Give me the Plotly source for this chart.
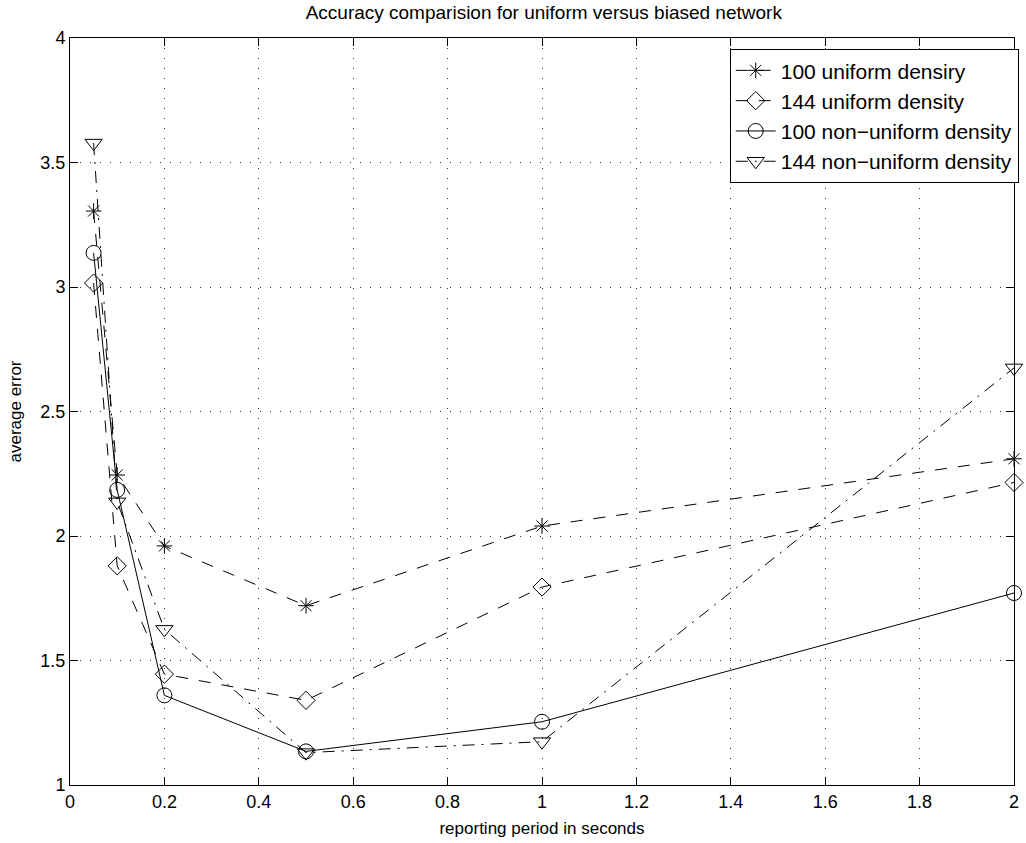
import plotly.graph_objects as go

periods = [0.05, 0.1, 0.2, 0.5, 1.0, 2.0]
uniform_100 = [3.305, 2.245, 1.96, 1.72, 2.04, 2.31]
uniform_144 = [3.016, 1.88, 1.445, 1.34, 1.795, 2.215]
nonuniform_100 = [3.137, 2.185, 1.36, 1.135, 1.254, 1.771]
nonuniform_144 = [3.578, 2.137, 1.625, 1.13, 1.174, 2.675]

names = ["100 uniform densiry", "144 uniform density",
         "100 non\u2212uniform density", "144 non\u2212uniform density"]
series = [uniform_100, uniform_144, nonuniform_100, nonuniform_144]
symbols = ["asterisk-open", "diamond-open", "circle-open", "triangle-down-open"]
dashes = ["12px,11px", "12px,11px", "solid", "12px,7px,2px,7px"]
sizes = [13, 14, 15, 15]

font = "Liberation Sans, Arial, Helvetica, sans-serif"
fig = go.Figure()
for name, ys, sym, d, sz in zip(names, series, symbols, dashes, sizes):
    fig.add_trace(go.Scatter(
        x=periods, y=ys, mode="lines+markers", name=name,
        line=dict(color="black", width=1, dash=d),
        marker=dict(symbol=sym, size=sz, color="black",
                    line=dict(color="black", width=1)),
        cliponaxis=False,
    ))

axis_common = dict(
    showline=True, linecolor="black", linewidth=1, mirror="allticks",
    ticks="inside", ticklen=8, tickcolor="black",
    showgrid=True, gridcolor="#333333", gridwidth=1, griddash="1px,9px",
    zeroline=False, tickfont=dict(family=font, size=18, color="black"),
    ticklabeloverflow="allow",
)
fig.update_xaxes(range=[0, 2],
                 tickvals=[0, 0.2, 0.4, 0.6, 0.8, 1, 1.2, 1.4, 1.6, 1.8, 2],
                 ticktext=["0", "0.2", "0.4", "0.6", "0.8", "1", "1.2", "1.4", "1.6", "1.8", "2"],
                 title=dict(text="reporting period in seconds", standoff=11,
                            font=dict(family=font, size=17, color="black")),
                 **axis_common)
fig.update_yaxes(range=[1, 4],
                 tickvals=[1, 1.5, 2, 2.5, 3, 3.5, 4],
                 ticktext=["1", "1.5", "2", "2.5", "3", "3.5", "4"],
                 title=dict(text="average error", standoff=14,
                            font=dict(family=font, size=17, color="black")),
                 **axis_common)

fig.update_layout(
    width=1026, height=843,
    margin=dict(l=70, r=7, t=38, b=58),
    paper_bgcolor="white", plot_bgcolor="white",
    title=dict(text="Accuracy comparision for uniform versus biased network",
               x=0.53, xanchor="center", y=0.985, yanchor="middle",
               font=dict(family=font, size=19, color="black")),
    legend=dict(x=1.005, y=0.985, xanchor="right", yanchor="top",
                bgcolor="white", bordercolor="black", borderwidth=1,
                font=dict(family=font, size=21, color="black"),
                tracegroupgap=0, itemwidth=40),
    showlegend=True,
)

fig.write_html("out.html", config={"displayModeBar": False},
               post_script="document.body.style.margin='0';document.body.style.overflow='hidden';")
